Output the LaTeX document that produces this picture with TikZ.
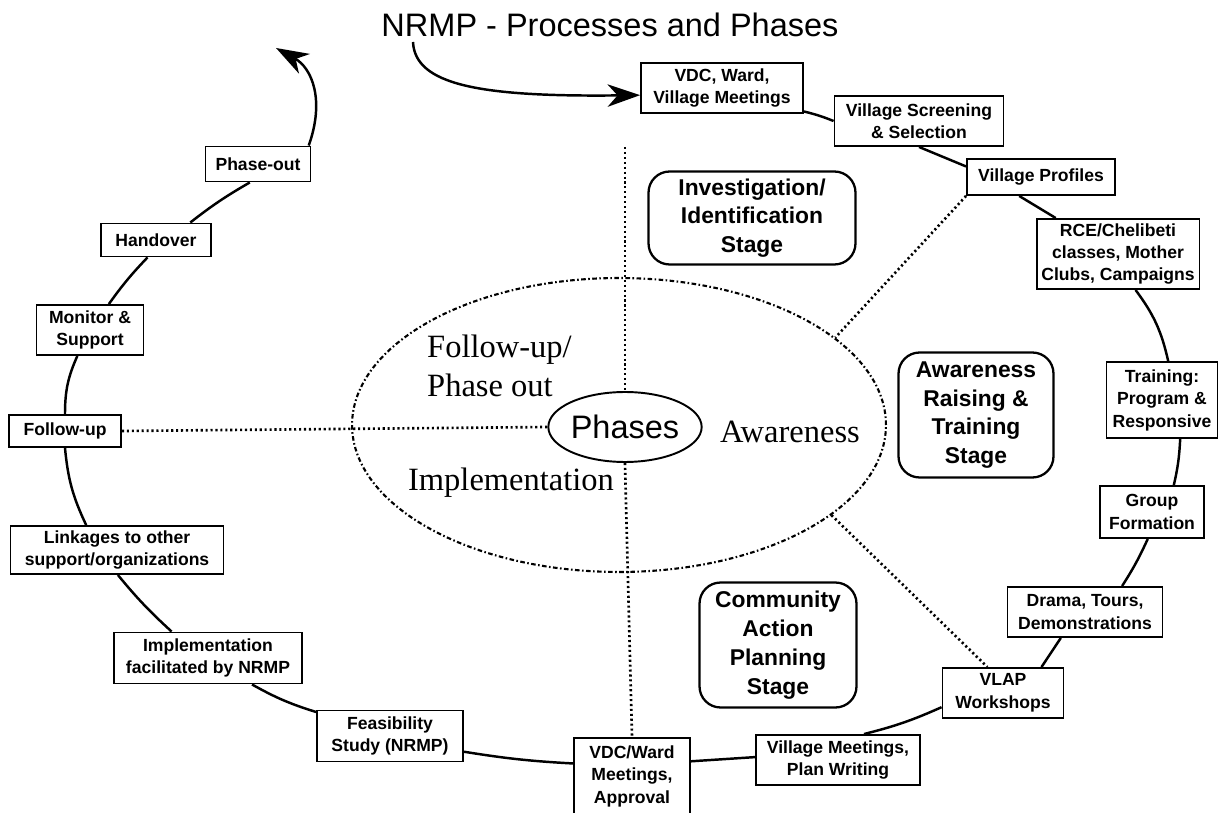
\documentclass[tikz,border=0pt]{standalone}
\usepackage{fontspec}
\setmainfont{Liberation Serif}
\setsansfont{Liberation Sans}
\usetikzlibrary{arrows.meta,shapes.geometric}

\begin{document}
\begin{tikzpicture}[x=0.02cm, y=-0.02cm, >={Stealth[length=6.5mm, width=4.5mm, inset=2mm]},
        proc/.style={draw, line width=1.1pt, align=center, inner sep=1pt, font=\sffamily\bfseries\fontsize{10}{12.8}\selectfont},
        stage/.style={draw, line width=1.3pt, rounded corners=12pt, align=center, font=\sffamily\bfseries\fontsize{13}{16.4}\selectfont},
        phase/.style={align=left, font=\fontsize{18.5}{22}\selectfont},
        ring/.style={line width=1.4pt},
        dots/.style={line width=1.5pt, dash pattern=on 1.2pt off 1.6pt},
        dashdots/.style={line width=1.2pt, dash pattern=on 2.6pt off 1.4pt on 0.9pt off 1.4pt}]
        \useasboundingbox (0,0) rectangle (1226,813);
        \node[font=\sffamily\fontsize{18.5}{22}\selectfont] (title) at (610,25) {NRMP - Processes and Phases};

        % ring of steps
        \node[proc, minimum width=3.24cm, minimum height=1cm] (vdc) at (722,88) {VDC, Ward,\\Village Meetings};
        \node[proc, minimum width=3.38cm, minimum height=1cm] (screen) at (919,121) {Village Screening\\\& Selection};
        \node[proc, minimum width=2.96cm, minimum height=0.72cm] (profiles) at (1041,177) {Village Profiles};
        \node[proc, minimum width=3.26cm, minimum height=1.4cm] (rce) at (1118,254) {RCE/Chelibeti\\classes, Mother\\Clubs, Campaigns};
        \node[proc, minimum width=2.22cm, minimum height=1.52cm] (training) at (1162,400) {Training:\\Program \&\\Responsive};
        \node[proc, minimum width=2.08cm, minimum height=1.04cm] (group) at (1152,512) {Group\\Formation};
        \node[proc, minimum width=3.1cm, minimum height=1cm] (drama) at (1085,612) {Drama, Tours,\\Demonstrations};
        \node[proc, minimum width=2.42cm, minimum height=1cm] (vlap) at (1003,693) {VLAP\\Workshops};
        \node[proc, minimum width=3.28cm, minimum height=1cm] (villmeet) at (838,760) {Village Meetings,\\Plan Writing};
        \node[proc, minimum width=2.32cm, minimum height=1.52cm] (vdcward) at (632,776) {VDC/Ward\\Meetings,\\Approval};
        \node[proc, minimum width=2.92cm, minimum height=1.02cm] (feas) at (390,736) {Feasibility\\Study (NRMP)};
        \node[proc, minimum width=3.76cm, minimum height=1.02cm] (impl) at (208,658) {Implementation\\facilitated by NRMP};
        \node[proc, minimum width=4.26cm, minimum height=0.96cm] (link) at (117,550) {Linkages to other\\support/organizations};
        \node[proc, minimum width=2.24cm, minimum height=0.64cm] (follow) at (65,431) {Follow-up};
        \node[proc, minimum width=2.14cm, minimum height=1cm] (monitor) at (90,330) {Monitor \&\\Support};
        \node[proc, minimum width=2.2cm, minimum height=0.66cm] (handover) at (156,240) {Handover};
        \node[proc, minimum width=2.1cm, minimum height=0.7cm] (phaseout) at (258,164) {Phase-out};

        % stages
        \node[stage, minimum width=4.14cm, minimum height=1.86cm] (invest) at (752,218) {Investigation/\\Identification\\Stage};
        \node[stage, minimum width=3.1cm, minimum height=2.5cm] (aware) at (976,415) {Awareness\\Raising \&\\Training\\Stage};
        \node[stage, minimum width=3.14cm, minimum height=2.5cm] (commun) at (778,645) {Community\\Action\\Planning\\Stage};

        % phases
        \node[draw, dashdots, ellipse, minimum width=10.68cm, minimum height=5.88cm] (outer) at (619,425) {};
        \node[draw, ellipse, line width=1.1pt, inner sep=0pt, minimum width=2.88cm, minimum height=1.4cm, font=\sffamily\fontsize{18.5}{22}\selectfont] (phases) at (625,427) {Phases};
        \node[phase, anchor=west] (fup) at (421,366) {Follow-up/\\Phase out};
        \node[phase] (aw) at (790,432) {Awareness};
        \node[phase] (imp) at (511,483) {Implementation};

        \coordinate (top) at (625,147);
        \draw[dots] (top) -- (phases.north);
        \draw[dots] (phases.south) -- (vdcward.north);
        \draw[dots] (follow.east) -- (phases.west);
        \draw[dots] (profiles.south west) -- (outer.22);
        \draw[dots] (outer.-23) -- (vlap.121);

        \draw[ring] (vdc.-16) to[bend left=4] (screen.west);
        \draw[ring] (screen.south) -- (profiles.172);
        \draw[ring] (profiles.-139) -- (rce.150);
        \draw[ring] (rce.-64) to[bend left=12] (training.81);
        \draw[ring] (training.-65) to[bend left=5] (group.51);
        \draw[ring] (group.-99) to[bend left=4] (drama.35);
        \draw[ring] (drama.-133) -- (vlap.34);
        \draw[ring] (vlap.-167) to[bend left=5] (villmeet.45);
        \draw[ring] (villmeet.178) -- (vdcward.14);
        \draw[ring] (vdcward.168) to[bend left=3] (feas.-12);
        \draw[ring] (feas.162) to[bend left=6] (impl.-31);
        \draw[ring] (impl.144) to[bend left=4] (link.-88);
        \draw[ring] (link.141) to[bend left=10] (follow.south);
        \draw[ring] (follow.north) to[bend left=12] (monitor.-116);
        \draw[ring] (monitor.54) to[bend left=4] (handover.-116);
        \draw[ring] (handover.27) to[bend left=4] (phaseout.-114);

        % in and out
        \coordinate (start) at (413,42);
        \coordinate (exit) at (276,48);
        \draw[ring, ->] (start) .. controls (415,85) and (480,97) .. (vdc.185);
        \draw[ring, ->] (phaseout.20) .. controls (325,100) and (312,68) .. (exit);
    \end{tikzpicture}
\end{document}
